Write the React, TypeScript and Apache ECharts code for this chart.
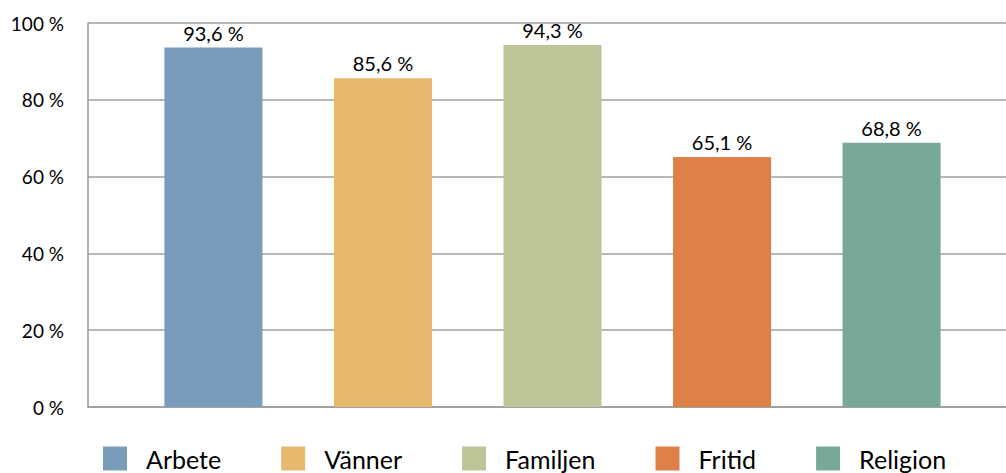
import React, { useEffect, useRef } from "react";
import * as echarts from "echarts";

const seriesNames = ["Arbete", "Vänner", "Familjen", "Fritid", "Religion"];
const seriesValues = [93.6, 85.6, 94.3, 65.1, 68.8];
const seriesColors = ["#7A9CBB", "#E8B86F", "#BCC498", "#DE8149", "#7AA898"];
const yTicks = [0, 20, 40, 60, 80, 100];

const FONT = "Lato, 'DejaVu Sans', sans-serif";

export default function App() {
  const ref = useRef<HTMLDivElement>(null);
  useEffect(() => {
    if (!ref.current) return;
    const chart = echarts.init(ref.current, null, { renderer: "svg" });
    chart.setOption({
      animation: false,
      backgroundColor: "#fff",
      textStyle: { fontFamily: FONT },
      grid: { left: 88, width: 929, top: 23, bottom: 66, containLabel: false, outerBoundsMode: "none" },
      legend: {
        left: 103,
        top: 446,
        padding: 0,
        itemWidth: 24,
        itemHeight: 24,
        itemGap: 60,
        icon: "rect",
        data: seriesNames,
        textStyle: { fontFamily: FONT, fontSize: 25, lineHeight: 24, color: "#000", padding: [0, 0, 0, 14] },
      },
      xAxis: {
        type: "category",
        data: [""],
        axisLine: { show: true, lineStyle: { color: "#9a9a9a", width: 1.5 } },
        axisTick: { show: false },
        axisLabel: { show: false },
      },
      yAxis: {
        type: "value",
        min: yTicks[0],
        max: yTicks[yTicks.length - 1],
        interval: 20,
        axisLine: { show: true, lineStyle: { color: "#9a9a9a", width: 1.5 } },
        axisTick: { show: false },
        splitLine: { show: true, lineStyle: { color: "#a0a0a0", width: 1.5 } },
        axisLabel: {
          formatter: (v: number) => `${v} %`,
          fontFamily: FONT,
          fontSize: 19,
          color: "#000",
          margin: 24,
        },
      },
      series: seriesNames.map((name, i) => ({
        name,
        type: "bar",
        data: [seriesValues[i]],
        barWidth: 98,
        barGap: "73%",
        itemStyle: { color: seriesColors[i] },
        label: {
          show: true,
          position: "top",
          distance: 5,
          formatter: () => `${seriesValues[i].toFixed(1).replace(".", ",")} %`,
          fontFamily: FONT,
          fontSize: 20,
          color: "#000",
        },
      })),
    });
    return () => chart.dispose();
  }, []);
  return <div ref={ref} style={{ width: 1006, height: 473, position: "absolute", left: 0, top: 0 }} />;
}
